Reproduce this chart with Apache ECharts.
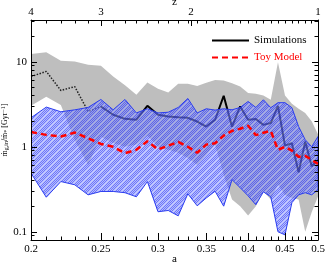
<!DOCTYPE html>
<html><head><meta charset="utf-8">
<script src="https://cdn.jsdelivr.net/npm/echarts@6/dist/echarts.min.js"></script>
<style>html,body{margin:0;padding:0;background:#fff}#c{width:326px;height:265px}</style>
</head><body><div id="c"></div>
<script>
// ---- data ----
const aValues   = [0.20,0.21,0.22,0.23,0.24,0.25,0.26,0.27,0.28,0.29,0.30,0.31,0.32,0.33,0.34,0.35,0.36,0.37,0.38,0.39,0.40,0.41,0.42,0.43,0.44,0.45,0.46,0.47,0.48,0.49,0.50];
const simHigh   = [12.3,12.9,10.3,10.1,9.2,9.0,6.7,5.3,4.1,5.7,4.8,4.35,5.5,5.5,5.2,5.65,6.1,6.0,5.6,5.1,4.3,4.2,4.0,3.57,9.9,4.0,3.2,2.8,2.5,2.0,1.4];
const simLow    = [3.04,3.87,3.1,1.2,0.61,1.31,1.11,1.0,1.06,1.35,1.0,0.92,0.85,0.74,0.61,0.8,1.06,0.47,0.24,0.2,0.155,0.2,0.3,0.24,0.36,0.27,0.25,0.24,0.1,0.17,0.26];
const simMedian = [6.7,7.7,4.6,5.1,2.6,2.98,2.38,2.13,2.08,3.03,2.38,2.27,2.22,2.19,1.98,1.73,2.08,3.98,1.72,2.98,2.08,2.12,1.81,1.9,3.03,1.03,1.1,0.5,1.15,0.59,0.70];
const toyHigh   = [2.19,2.93,2.58,2.72,2.9,3.6,2.72,3.6,2.5,2.8,2.5,2.55,2.9,3.7,2.5,2.8,2.7,2.8,2.72,2.9,3.41,2.9,3.57,2.88,3.3,3.3,2.88,1.73,1.21,1.0,1.32];
const toyLow    = [0.49,0.255,0.39,0.357,0.272,0.298,0.298,0.288,0.258,0.39,0.172,0.178,0.154,0.28,0.202,0.25,0.3,0.2,0.41,0.33,0.265,0.208,0.295,0.258,0.1,0.092,0.22,0.272,0.288,0.272,0.312];
const toyMedian = [1.49,1.38,1.32,1.47,1.26,1.08,1.0,0.84,0.92,1.16,0.93,1.03,1.14,1.0,0.85,1.06,1.1,1.35,1.54,1.63,1.77,1.37,1.46,1.54,0.92,1.0,0.9,0.76,0.78,0.70,0.63];
const dottedEnd = 5; // simulations median drawn dotted up to a = 0.25

const aTickLabels = [0.2,0.25,0.3,0.35,0.4,0.45,0.5];
const aMinorTicks = [0.20,0.21,0.22,0.23,0.24,0.25,0.26,0.27,0.28,0.29,0.30,0.31,0.32,0.33,0.34,0.35,0.36,0.37,0.38,0.39,0.40,0.41,0.42,0.43,0.44,0.45,0.46,0.47,0.48,0.49,0.50];
const zTickLabels = [4,3,2,1];
const yTickLabels = [0.1,1,10];
const yMinorTicks = [0.09,0.2,0.3,0.4,0.5,0.6,0.7,0.8,0.9,2,3,4,5,6,7,8,9,20,30];

// ---- styles ----
const FONT = 'Liberation Serif';
function hatch(){
  const N = 8;
  const c = document.createElement('canvas'); c.width = N; c.height = N;
  const g = c.getContext('2d');
  const img = g.createImageData(N, N);
  for (let y=0;y<N;y++) for (let x=0;x<N;x++){
    const k = (y*N + x)*4;
    let col;
    if (((x + y) % N) === 0) col = [150,160,255,140];      // light stripe
    else if ((x + y) % 2 === 0) col = [62,74,245,190];     // dark checker
    else col = [130,140,255,150];                          // light checker
    img.data[k]=col[0]; img.data[k+1]=col[1]; img.data[k+2]=col[2]; img.data[k+3]=col[3];
  }
  g.putImageData(img,0,0);
  return c;
}
const zPos = zTickLabels.map(z => 1/(1+z));
function nearestLabel(v, vals, labels){
  let best = 0;
  for (let i=1;i<vals.length;i++) if (Math.abs(vals[i]-v) < Math.abs(vals[best]-v)) best = i;
  return String(labels[best]);
}

function xAxis(pos, labelVals, labelTexts, tickVals, tickLen, showLabel, showLine, name, nameGap, margin){
  return {
    type:'log', logBase:10, min:0.2, max:0.5, position:pos, z:10,
    name: name || '', nameLocation:'middle', nameGap: nameGap || 0, nameMoveOverlap:false,
    nameTextStyle:{fontFamily:FONT, fontSize:11, color:'#000'},
    axisLine:{show:showLine, lineStyle:{color:'#000', width:1}},
    axisTick:{show:true, inside:true, length:tickLen, customValues:tickVals, lineStyle:{color:'#000', width:1}},
    axisLabel:{show:showLabel, customValues:labelVals, margin: margin || 4, fontFamily:FONT, fontSize:11, color:'#000',
      formatter: v => nearestLabel(v, labelVals, labelTexts)},
    splitLine:{show:false}, minorTick:{show:false}
  };
}
function yAxis(pos, labelVals, tickVals, tickLen, showLabel, showLine, name){
  return {
    type:'log', logBase:10, min:0.08, max:31, position:pos, z:10,
    name: name || '', nameLocation:'middle', nameGap:21, nameRotate:90, nameMoveOverlap:false,
    nameTextStyle:{fontFamily:FONT, fontSize:8, color:'#000',
      rich:{m:{fontFamily:FONT,fontSize:8,color:'#000'}, s:{fontFamily:FONT,fontSize:6,color:'#000',padding:[3,0,0,0]}, p:{fontFamily:FONT,fontSize:6,color:'#000',padding:[0,0,4,0]}}},
    axisLine:{show:showLine, lineStyle:{color:'#000', width:1}},
    axisTick:{show:true, inside:true, length:tickLen, customValues:tickVals, lineStyle:{color:'#000', width:1}},
    axisLabel:{show:showLabel, customValues:labelVals, margin:4, fontFamily:FONT, fontSize:11, color:'#000',
      formatter: v => nearestLabel(v, yTickLabels, yTickLabels)},
    splitLine:{show:false}, minorTick:{show:false}
  };
}

function band(name, low, high, fill, stroke, z){
  return {
    type:'custom', name, z, clip:true, xAxisIndex:0, yAxisIndex:0, silent:true,
    data: aValues.map((a,i)=>[a, low[i], high[i]]),
    renderItem(params, api){
      if (params.dataIndex !== 0) return null;
      const pts = [];
      for (let i=0;i<aValues.length;i++) pts.push(api.coord([aValues[i], high[i]]));
      for (let i=aValues.length-1;i>=0;i--) pts.push(api.coord([aValues[i], low[i]]));
      return {type:'polygon', shape:{points:pts}, style:{fill, stroke, lineWidth: stroke ? 1 : 0}};
    }
  };
}

const chart = echarts.init(document.getElementById('c'), null, {renderer:'canvas'});
chart.setOption({
  animation:false,
  backgroundColor:'#fff',
  grid:{left:31, right:8, top:20, bottom:25, containLabel:false, outerBoundsMode:'none'},
  legend:{
    orient:'vertical', left:206, top:30, itemWidth:37, itemHeight:10, itemGap:6,
    itemStyle:{opacity:0},
    textStyle:{fontFamily:FONT, fontSize:11},
    data:[{name:'Simulations', textStyle:{color:'#000'}}, {name:'Toy Model', textStyle:{color:'#ff0000'}}]
  },
  xAxis:[
    xAxis('bottom', aTickLabels, aTickLabels, aMinorTicks, 3.5, true, true, 'a', 14, 4),
    xAxis('bottom', aTickLabels, aTickLabels, aTickLabels, 7, false, false),
    xAxis('top', zPos, zTickLabels, aMinorTicks, 3.5, true, true, 'z', 12, 2),
    xAxis('top', zPos, zTickLabels, zPos, 6, false, false)
  ],
  yAxis:[
    yAxis('left', yTickLabels, yTickLabels, 6, true, true,
      '{m|ṁ}{s|g,in}{m|/ṁ}{s|*}{m| [Gyr}{p|−1}{m|]}'),
    yAxis('left', yTickLabels, yMinorTicks, 3.5, false, false),
    yAxis('right', yTickLabels, yTickLabels, 6, false, true),
    yAxis('right', yTickLabels, yMinorTicks, 3.5, false, false)
  ],
  series:[
    band('simRange', simLow, simHigh, '#bebebe', null, 1),
    {type:'line', name:'simDotted', z:2, symbol:'none', silent:true,
     data: aValues.slice(0, dottedEnd+1).map((a,i)=>[a, simMedian[i]]),
     lineStyle:{color:'#222', width:1.5, type:[1.5,1.5]}},
    {type:'line', name:'Simulations', z:2, symbol:'none', silent:true,
     data: aValues.slice(dottedEnd).map((a,i)=>[a, simMedian[i+dottedEnd]]),
     lineStyle:{color:'#000', width:2}},
    band('toyRange', toyLow, toyHigh, {image: hatch(), repeat:'repeat'}, '#2a3cf0', 3),
    {type:'line', name:'Toy Model', z:4, symbol:'none', silent:true,
     data: aValues.map((a,i)=>[a, toyMedian[i]]),
     lineStyle:{color:'#ff0000', width:2.5, type:[6,4]}}
  ]
});
</script>
</body></html>
